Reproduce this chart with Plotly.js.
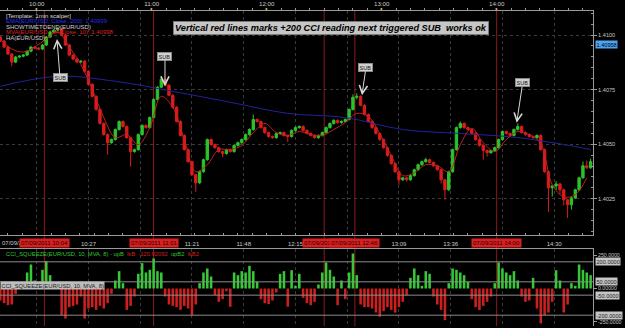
<!DOCTYPE html>
<html>
<head>
<meta charset="utf-8">
<script src="https://cdn.plot.ly/plotly-3.0.1.min.js"></script>
<style>html,body{margin:0;padding:0;background:#000;}#chart{width:625px;height:328px;}</style>
</head>
<body>
<div id="chart"></div>
<script>
// ---------- DATA (EUR/USD 2-minute Heikin-Ashi, 07/09/2011) ----------
const DAY = '2011-09-07';
const firstBar = '09:41';     // first candle time, bars every 2 minutes
const barStepMin = 2;

const open = [
 1.40991,1.40972,1.40945,1.40913,1.40876,1.40899,1.40903,1.40908,1.40926,1.40945,
 1.40940,1.40936,1.40954,1.40991,1.41014,1.41023,1.41028,1.41000,1.40954,1.40908,
 1.40890,1.40876,1.40880,1.40834,1.40774,1.40719,1.40659,1.40595,1.40544,1.40507,
 1.40521,1.40567,1.40604,1.40581,1.40530,1.40466,1.40475,1.40544,1.40586,1.40576,
 1.40622,1.40705,1.40761,1.40797,1.40770,1.40724,1.40669,1.40604,1.40540,1.40475,
 1.40420,1.40360,1.40323,1.40374,1.40429,1.40521,1.40498,1.40484,1.40466,1.40457,
 1.40475,1.40466,1.40494,1.40507,1.40521,1.40544,1.40567,1.40613,1.40604,1.40576,
 1.40553,1.40535,1.40530,1.40549,1.40553,1.40540,1.40535,1.40563,1.40576,1.40581,
 1.40563,1.40549,1.40540,1.40530,1.40540,1.40553,1.40576,1.40595,1.40609,1.40599,
 1.40604,1.40613,1.40659,1.40715,1.40719,1.40678,1.40636,1.40604,1.40576,1.40549,
 1.40521,1.40484,1.40448,1.40411,1.40374,1.40337,1.40346,1.40337,1.40356,1.40383,
 1.40406,1.40420,1.40429,1.40416,1.40401,1.40383,1.40337,1.40291,1.40374,1.40475,
 1.40576,1.40595,1.40576,1.40567,1.40549,1.40521,1.40494,1.40471,1.40461,1.40471,
 1.40484,1.40521,1.40558,1.40549,1.40540,1.40567,1.40581,1.40553,1.40544,1.40535,
 1.40530,1.40540,1.40475,1.40374,1.40300,1.40309,1.40318,1.40291,1.40245,1.40222,
 1.40254,1.40291,1.40346,1.40401,1.40392
];
const high = [
 1.40996,1.40977,1.40950,1.40918,1.40904,1.40908,1.40913,1.40931,1.40950,1.40950,
 1.40945,1.40959,1.40996,1.41019,1.41028,1.41037,1.41033,1.41005,1.40959,1.40913,
 1.40895,1.40885,1.40885,1.40839,1.40779,1.40724,1.40664,1.40600,1.40549,1.40526,
 1.40572,1.40609,1.40609,1.40586,1.40535,1.40480,1.40549,1.40591,1.40591,1.40627,
 1.40710,1.40766,1.40811,1.40802,1.40775,1.40729,1.40674,1.40609,1.40545,1.40480,
 1.40425,1.40365,1.40379,1.40434,1.40526,1.40526,1.40503,1.40489,1.40471,1.40480,
 1.40480,1.40499,1.40512,1.40526,1.40549,1.40572,1.40636,1.40618,1.40609,1.40581,
 1.40558,1.40540,1.40554,1.40558,1.40558,1.40545,1.40568,1.40581,1.40586,1.40586,
 1.40568,1.40554,1.40545,1.40545,1.40558,1.40581,1.40600,1.40614,1.40614,1.40609,
 1.40618,1.40664,1.40728,1.40733,1.40724,1.40683,1.40641,1.40609,1.40581,1.40554,
 1.40526,1.40489,1.40453,1.40416,1.40379,1.40351,1.40351,1.40361,1.40388,1.40411,
 1.40425,1.40438,1.40434,1.40421,1.40406,1.40388,1.40342,1.40379,1.40480,1.40581,
 1.40604,1.40600,1.40581,1.40572,1.40554,1.40526,1.40499,1.40476,1.40476,1.40489,
 1.40526,1.40563,1.40563,1.40554,1.40572,1.40595,1.40586,1.40558,1.40549,1.40540,
 1.40545,1.40545,1.40480,1.40379,1.40314,1.40330,1.40323,1.40296,1.40250,1.40259,
 1.40296,1.40351,1.40420,1.40425,1.40434
];
const low = [
 1.40967,1.40940,1.40908,1.40857,1.40871,1.40894,1.40898,1.40903,1.40921,1.40935,
 1.40931,1.40931,1.40949,1.40986,1.41009,1.41018,1.40995,1.40949,1.40903,1.40885,
 1.40871,1.40871,1.40829,1.40769,1.40714,1.40654,1.40590,1.40539,1.40452,1.40502,
 1.40516,1.40562,1.40576,1.40525,1.40397,1.40461,1.40470,1.40539,1.40571,1.40571,
 1.40617,1.40700,1.40756,1.40765,1.40719,1.40664,1.40599,1.40535,1.40470,1.40415,
 1.40355,1.40282,1.40318,1.40369,1.40424,1.40493,1.40479,1.40461,1.40440,1.40452,
 1.40461,1.40461,1.40489,1.40502,1.40516,1.40539,1.40562,1.40599,1.40571,1.40548,
 1.40530,1.40525,1.40525,1.40544,1.40535,1.40510,1.40530,1.40558,1.40571,1.40558,
 1.40544,1.40535,1.40525,1.40525,1.40535,1.40548,1.40571,1.40590,1.40594,1.40594,
 1.40599,1.40608,1.40654,1.40705,1.40673,1.40631,1.40599,1.40571,1.40544,1.40516,
 1.40479,1.40443,1.40406,1.40369,1.40314,1.40332,1.40328,1.40332,1.40351,1.40378,
 1.40401,1.40415,1.40411,1.40396,1.40378,1.40320,1.40245,1.40286,1.40369,1.40470,
 1.40571,1.40571,1.40562,1.40544,1.40516,1.40489,1.40429,1.40443,1.40456,1.40466,
 1.40479,1.40516,1.40544,1.40535,1.40535,1.40562,1.40548,1.40539,1.40530,1.40525,
 1.40525,1.40470,1.40369,1.40190,1.40260,1.40290,1.40270,1.40220,1.40162,1.40200,
 1.40249,1.40286,1.40341,1.40387,1.40387
];
const close = [
 1.40972,1.40945,1.40913,1.40876,1.40899,1.40903,1.40908,1.40926,1.40945,1.40940,
 1.40936,1.40954,1.40991,1.41014,1.41023,1.41028,1.41000,1.40954,1.40908,1.40890,
 1.40876,1.40880,1.40834,1.40774,1.40719,1.40659,1.40595,1.40544,1.40507,1.40521,
 1.40567,1.40604,1.40581,1.40530,1.40466,1.40475,1.40544,1.40586,1.40576,1.40622,
 1.40705,1.40761,1.40797,1.40770,1.40724,1.40669,1.40604,1.40540,1.40475,1.40420,
 1.40360,1.40323,1.40374,1.40429,1.40521,1.40498,1.40484,1.40466,1.40457,1.40475,
 1.40466,1.40494,1.40507,1.40521,1.40544,1.40567,1.40613,1.40604,1.40576,1.40553,
 1.40535,1.40530,1.40549,1.40553,1.40540,1.40535,1.40563,1.40576,1.40581,1.40563,
 1.40549,1.40540,1.40530,1.40540,1.40553,1.40576,1.40595,1.40609,1.40599,1.40604,
 1.40613,1.40659,1.40715,1.40719,1.40678,1.40636,1.40604,1.40576,1.40549,1.40521,
 1.40484,1.40448,1.40411,1.40374,1.40337,1.40346,1.40337,1.40356,1.40383,1.40406,
 1.40420,1.40429,1.40416,1.40401,1.40383,1.40337,1.40291,1.40374,1.40475,1.40576,
 1.40595,1.40576,1.40567,1.40549,1.40521,1.40494,1.40471,1.40461,1.40471,1.40484,
 1.40521,1.40558,1.40549,1.40540,1.40567,1.40581,1.40553,1.40544,1.40535,1.40530,
 1.40540,1.40475,1.40374,1.40300,1.40309,1.40318,1.40291,1.40245,1.40222,1.40254,
 1.40291,1.40346,1.40401,1.40392,1.40420
];
// CCI squeeze histogram, one value per candle
const cci = [
 -90,-110,-125,-120,-40,10,30,120,180,60,
 30,140,205,100,40,50,-200,-225,-140,-130,
 -120,-60,-225,-150,-140,-160,-130,-150,-110,-40,
 60,130,40,-160,-130,-60,110,190,120,140,
 225,130,120,-60,-120,-130,-140,-160,-130,-150,
 -200,-120,40,120,150,90,-50,-100,-80,-20,
 -137,120,100,130,120,170,130,50,-80,-110,
 -117,-90,-30,110,130,-137,137,20,110,-70,
 -110,-125,-100,30,120,195,140,90,-125,60,
 -80,120,262,100,-120,-140,-140,-150,-180,-212,
 -170,-140,-160,-180,-140,-100,-50,80,150,100,
 20,130,110,-60,-120,-160,-237,40,150,140,
 120,100,50,-80,-140,-162,-130,-100,-60,40,
 195,150,120,100,130,60,-60,-100,-90,80,
 -150,-262,-200,-180,-100,137,60,-180,-120,40,
 20,180,140,120,100
];
// MVA(HA close,10) sampled every 6 minutes from 09:41
const mvaStepMin = 6;
const mva = [
 1.40982,1.40936,1.40922,1.40945,1.40982,1.41014,1.40945,1.40866,1.40751,1.40622,
 1.40530,1.40544,1.40498,1.40576,1.40719,1.40669,1.40521,1.40374,1.40406,1.40475,
 1.40475,1.40494,1.40553,1.40595,1.40553,1.40540,1.40558,1.40544,1.40540,1.40567,
 1.40599,1.40641,1.40627,1.40549,1.40448,1.40356,1.40369,1.40406,1.40401,1.40374,
 1.40498,1.40572,1.40507,1.40466,1.40521,1.40558,1.40544,1.40503,1.40314,1.40259,
 1.40268,1.40346
];
// EMA(close,200)
const emaTimes = ['09:41','10:11','10:41','11:11','11:41','12:11','12:41','13:11','13:41','14:11','14:41','14:49'];
const ema = [1.40765,1.40811,1.40788,1.40742,1.40692,1.40641,1.40622,1.40567,1.40549,1.40530,1.40489,1.40475];

// axis labels / markers
const hourTicks = ['10:00','11:00','12:00','13:00','14:00'];
const gridTicks = ['10:00','10:27','10:54','11:21','11:48','12:15','12:42','13:09','13:36','14:03','14:30'];
// labels hidden under the red signal boxes are left blank
const gridLabels = ['','10:27','','11:21','11:48','12:15','','13:09','13:36','','14:30'];
const priceTicks = [1.4025, 1.4050, 1.4075, 1.4100];
const priceTickText = ['1.4025','1.4050','1.4075','1.4100'];
const cciTicks = [250, 0, -250];
const cciTickText = ['250.0000','0.00000','-250.0000'];
const bandLevels = [200, 50, -50, -200];
const bandText = ['200.0000','50.0000','-50.0000','-200.0000'];
const signalTimes = ['10:04','11:01','12:30','12:46','14:00'];
const signalBoxShift = [0, 0, 3, 0, 0];
const subTimes = ['10:10:36','11:06:56','12:49:43','14:10:26'];
const subPrices = [1.40982, 1.40765, 1.40724, 1.40598];
const lastPrice = 1.40958;

// ---------- helpers ----------
function pad(n){return String(n).padStart(2,'0');}
function toMin(hhmm){const p=hhmm.split(':');return (+p[0])*60+(+p[1]);}
function ts(min){return DAY+' '+pad(Math.floor(min/60))+':'+pad(min%60);}
function at(hhmm){return DAY+' '+hhmm;}

const t0 = toMin(firstBar);
const times = close.map((_, i) => ts(t0 + barStepMin*i));
const mvaTimes = mva.map((_, i) => ts(t0 + mvaStepMin*i));
const RANGE = [at('09:40:51'), at('14:50:15')];

const GREEN = '#2bc42b', RED = '#dc1c1c';
const FONT = 'Liberation Sans, Arial, sans-serif';

const traces = [
  {type:'scatter', mode:'lines', x: emaTimes.map(at), y: ema, xaxis:'x', yaxis:'y',
   line:{color:'#22229a', width:1, shape:'spline'}, hoverinfo:'skip'},
  {type:'candlestick', x: times, open: open, high: high, low: low, close: close, xaxis:'x', yaxis:'y',
   increasing:{line:{color:GREEN, width:1}, fillcolor:GREEN},
   decreasing:{line:{color:RED, width:1}, fillcolor:RED},
   whiskerwidth:0, hoverinfo:'skip'},
  {type:'scatter', mode:'lines', x: mvaTimes, y: mva, xaxis:'x', yaxis:'y',
   line:{color:'#c02222', width:1, shape:'spline'}, hoverinfo:'skip'},
  {type:'bar', x: times, y: cci, xaxis:'x2', yaxis:'y2', width: 80000,
   marker:{color: cci.map(v => v >= 0 ? '#36c836' : '#cc2020'), line:{width:0}}, hoverinfo:'skip'},
  {type:'scatter', mode:'markers', x:[RANGE[0]], y:[null], xaxis:'x3', yaxis:'y', hoverinfo:'skip', marker:{opacity:0}}
];

const GRID = '#3a3a3a', AX = '#9a9a9a', TXT = '#c8c8c8';
const PH = 328 - 11 - 2;
function py(px){return (326 - px)/PH;}

const shapes = [];
signalTimes.forEach(t => shapes.push({type:'line', xref:'x', yref:'paper', x0:at(t), x1:at(t), y0:0, y1:1,
  line:{color:'#8e1a1a', width:1}, layer:'below'}));
bandLevels.forEach(v => shapes.push({type:'line', xref:'x2 domain', yref:'y2', x0:0, x1:1, y0:v, y1:v,
  line:{color:'#8c8c8c', width:1}, layer:'above'}));

const annotations = [];
// truncated date label at the left edge (rest hidden behind the first red box)
annotations.push({xref:'paper', yref:'paper', x:0, y:py(243), xanchor:'left', yanchor:'middle', text:'07/09/2', showarrow:false,
  font:{family:FONT, size:6, color:TXT}});
// red signal boxes
signalTimes.forEach((t,i) => annotations.push({xref:'x', yref:'paper', x:at(t), xshift:signalBoxShift[i], y:py(243), yanchor:'middle',
  text:'07/09/2011 '+t, showarrow:false, bgcolor:'#d82020', borderpad:1, font:{family:FONT, size:6, color:'#1a0000'}}));
// top-left legend text
const legendLines = [
  ['[Template: 1min scalper]', '#dcdcdc', 15.6],
  ['EMA(EUR/USD, Close, 200): 1.40939', '#2a2aff', 21.2],
  ['SHOWTIMETOEND(EUR/USD)', '#d0d0d0', 26.8],
  ['MVA(EUR/USD, HA Close, 10): 1.40998', '#dd2222', 32.4],
  ['HA(EUR/USD)', '#d0d0d0', 38.0]
];
legendLines.forEach(l => annotations.push({xref:'paper', yref:'paper', x:0.006, y:py(l[2]), xanchor:'left',
  yanchor:'middle', text:l[0], showarrow:false, font:{family:FONT, size:6, color:l[1]}}));
// title box
annotations.push({xref:'paper', yref:'paper', x:331/593, y:py(27.5), xanchor:'center', yanchor:'middle',
  text:'Vertical red lines marks +200 CCI reading next triggered SUB\u00a0 works ok', showarrow:false,
  bgcolor:'#c6c6c6', bordercolor:'#7a7a7a', borderwidth:1, borderpad:1,
  font:{family:FONT, size:9.2, color:'#000', weight:'bold', style:'italic'}});
// SUB markers
const subOffsets = [[3,39],[0,-30],[4,-28],[6,-40]];
subTimes.forEach((t,i) => annotations.push({xref:'x', yref:'y', x:at(t), y:subPrices[i], text:'SUB',
  showarrow:true, arrowhead:5, arrowsize:1.6, arrowwidth:1, arrowcolor:'#d8d8d8',
  ax:subOffsets[i][0], ay:subOffsets[i][1], bgcolor:'#d0d0d0', bordercolor:'#8a8a8a', borderwidth:1, borderpad:0.5,
  font:{family:FONT, size:5.5, color:'#111'}}));
// yellow hour markers on top axis
hourTicks.forEach(t => annotations.push({xref:'x', yref:'paper', x:at(t), y:py(9.3), yanchor:'middle', text:'\u25BE', showarrow:false,
  font:{family:'DejaVu Sans', size:5, color:'#d9b43a'}}));
// last price tag
annotations.push({xref:'paper', yref:'y', x:1, xshift:2, y:lastPrice, xanchor:'left', yanchor:'middle',
  text:String(lastPrice), showarrow:false, bgcolor:'#4fa3f0', borderpad:0.5,
  font:{family:FONT, size:5.6, color:'#001'}});
// CCI legend
annotations.push({xref:'paper', yref:'paper', x:0.006, y:py(253.5), xanchor:'left', yanchor:'middle', showarrow:false,
  text:'<span style="color:#33c633">CCI_SQUEEZE(EUR/USD, 10, MVA, 8) - upB</span>\u00a0 <span style="color:#d02020">lkB: -120.92092</span>\u00a0 <span style="color:#33c633">upB2</span>\u00a0 <span style="color:#d02020">lkB2</span>',
  font:{family:FONT, size:5.8, color:'#ccc'}});
annotations.push({xref:'paper', yref:'paper', x:0, y:py(285.5), xanchor:'left', yanchor:'middle', showarrow:false,
  text:'CCI_SQUEEZE(EUR/USD, 10, MVA, 8)', bgcolor:'#bdbdbd', borderpad:0.5, font:{family:FONT, size:5.8, color:'#222'}});
bandLevels.forEach((v,i) => annotations.push({xref:'paper', yref:'y2', x:1, xshift:2, y:v, xanchor:'left', yanchor:'middle',
  text:bandText[i], showarrow:false, bgcolor:'#c4c4c4', borderpad:0.5, font:{family:FONT, size:5.6, color:'#222'}}));

const layout = {
  width:625, height:328,
  margin:{l:0, r:32, t:11, b:2, pad:0},
  paper_bgcolor:'#000', plot_bgcolor:'#000',
  showlegend:false,
  boxgap:0.12,
  font:{family:FONT, size:6, color:TXT},
  xaxis:{domain:[0,1], anchor:'y', type:'date', range:RANGE, rangeslider:{visible:false},
    tickvals:gridTicks.map(at), showticklabels:false, ticks:'',
    showgrid:true, gridcolor:GRID, griddash:'dot', gridwidth:1,
    showline:true, linecolor:AX, linewidth:1, zeroline:false,
    minor:{dtick:450000, ticks:'inside', ticklen:2, tickcolor:AX, showgrid:false}},
  xaxis3:{overlaying:'x', anchor:'y', side:'top', type:'date', range:RANGE,
    tickvals:hourTicks.map(at), ticktext:hourTicks, ticks:'outside', ticklen:2, tickcolor:AX,
    showgrid:false, showline:true, linecolor:AX, linewidth:1, zeroline:false,
    tickfont:{family:FONT, size:6.2, color:TXT},
    minor:{dtick:450000, ticks:'outside', ticklen:2, tickcolor:AX, showgrid:false}},
  yaxis:{domain:[py(235),1], anchor:'x', side:'right', range:[1.40084,1.41110],
    tickvals:priceTicks, ticktext:priceTickText, ticks:'outside', ticklen:3, tickcolor:AX,
    showgrid:true, gridcolor:GRID, griddash:'dot', showline:true, linecolor:AX, zeroline:false,
    tickfont:{family:FONT, size:5.6, color:TXT},
    minor:{dtick:0.0005, ticks:'inside', ticklen:2, tickcolor:AX, showgrid:false}},
  xaxis2:{domain:[0,1], anchor:'y2', type:'date', range:RANGE, side:'top',
    tickvals:gridTicks.map(at), ticktext:gridLabels, ticks:'', showgrid:true, gridcolor:GRID, griddash:'dot',
    showline:true, linecolor:AX, zeroline:false, tickfont:{family:FONT, size:6, color:TXT}},
  yaxis2:{domain:[0,py(249)], anchor:'x2', side:'right', range:[-281,296],
    tickvals:cciTicks, ticktext:cciTickText, ticks:'outside', ticklen:3, tickcolor:AX,
    showline:true, linecolor:AX, showgrid:false, zeroline:false, tickfont:{family:FONT, size:5.2, color:TXT}},
  shapes:shapes,
  annotations:annotations
};

Plotly.newPlot('chart', traces, layout, {staticPlot:true, displayModeBar:false});
</script>
</body>
</html>
